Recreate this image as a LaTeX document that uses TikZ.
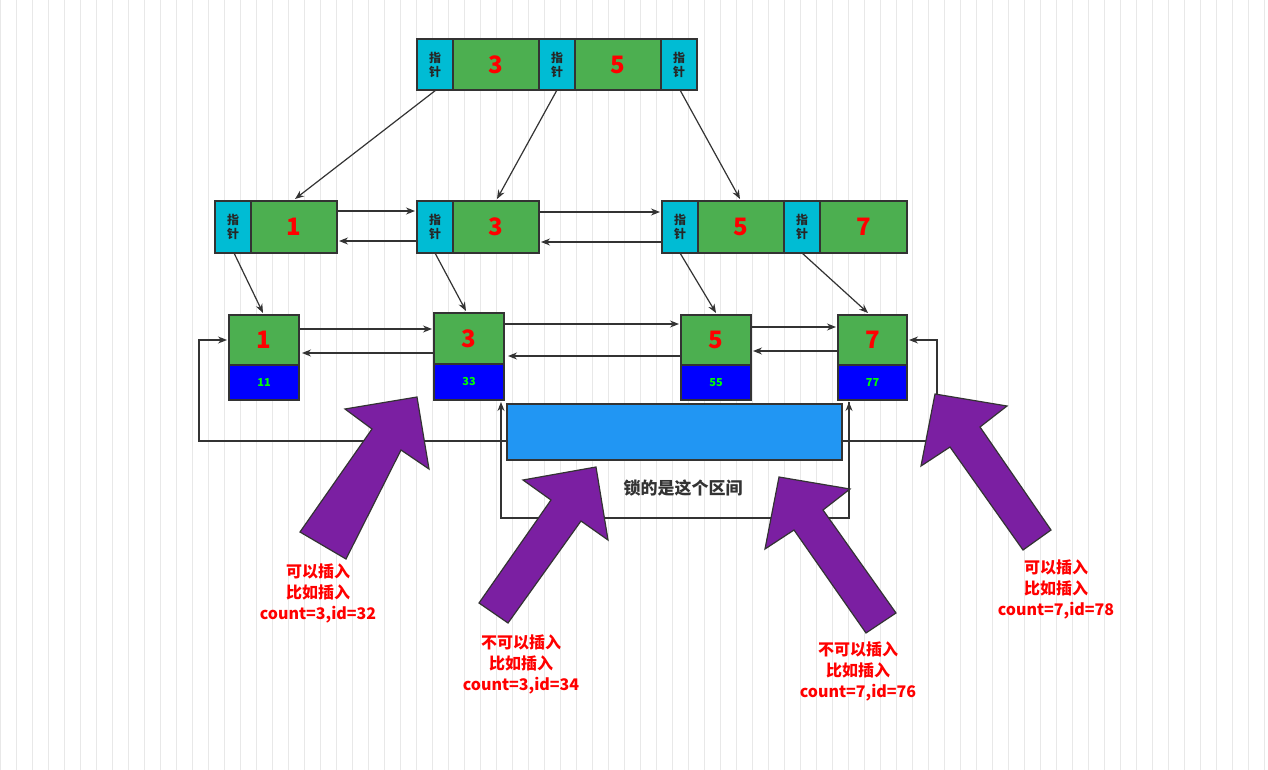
\documentclass[tikz,border=0pt]{standalone}
\usepackage{fontspec}
\setmainfont{Noto Sans CJK SC}
\usetikzlibrary{arrows.meta}
\definecolor{cg}{HTML}{4CAF50}
\definecolor{cb}{HTML}{00BCD4}
\definecolor{cbl}{HTML}{0000FF}
\definecolor{crect}{HTML}{2196F3}
\definecolor{cpur}{HTML}{7B1FA2}
\definecolor{ced}{HTML}{333333}
\begin{document}
\begin{tikzpicture}[x=1pt,y=-1pt,
  cell/.style={draw=ced,line width=1.5pt,inner sep=0pt},
  ptr/.style={cell,fill=cb},
  grn/.style={cell,fill=cg},
  blu/.style={cell,fill=cbl},
  ptrtxt/.style={font=\fontsize{12}{14}\selectfont\bfseries,align=center,text=black!85},
  numtxt/.style={font=\fontsize{24}{26}\selectfont\bfseries,text=red},
  leaftxt/.style={font=\fontsize{11}{12}\selectfont\bfseries,text=green},
  arr/.style={draw=ced,line width=1.2pt,-{Stealth[length=9pt,width=7pt]}},
  bigarr/.style={fill=cpur,draw=ced,line width=1.2pt},
  lbl/.style={font=\fontsize{16}{21}\selectfont\bfseries,text=red,align=center}]
\useasboundingbox (0,0) rectangle (1268,770);
\fill[white] (0,0) rectangle (1268,770);
\draw[black!9,line width=0.6pt,step=16] (0,0) grid (1268,770);
% helpers
\newcommand{\pcell}[5]{\node[#1,minimum width=#4-#2,minimum height=#5-#3] at ({(#2+#4)/2},{(#3+#5)/2})}
% top node
\pcell{ptr}{417}{39}{453}{90} (t1) {}; \node[ptrtxt] at (t1) {指\\针};
\pcell{grn}{453}{39}{539}{90} (t2) {}; \node[numtxt] at (t2) {3};
\pcell{ptr}{539}{39}{575}{90} (t3) {}; \node[ptrtxt] at (t3) {指\\针};
\pcell{grn}{575}{39}{661}{90} (t4) {}; \node[numtxt] at (t4) {5};
\pcell{ptr}{661}{39}{697}{90} (t5) {}; \node[ptrtxt] at (t5) {指\\针};
% middle row
\pcell{ptr}{215}{201}{251}{253} (a1) {}; \node[ptrtxt] at (a1) {指\\针};
\pcell{grn}{251}{201}{337}{253} (a2) {}; \node[numtxt] at (a2) {1};
\pcell{ptr}{417}{201}{453}{253} (b1) {}; \node[ptrtxt] at (b1) {指\\针};
\pcell{grn}{453}{201}{539}{253} (b2) {}; \node[numtxt] at (b2) {3};
\pcell{ptr}{662}{201}{698}{253} (c1) {}; \node[ptrtxt] at (c1) {指\\针};
\pcell{grn}{698}{201}{784}{253} (c2) {}; \node[numtxt] at (c2) {5};
\pcell{ptr}{784}{201}{820}{253} (c3) {}; \node[ptrtxt] at (c3) {指\\针};
\pcell{grn}{820}{201}{907}{253} (c4) {}; \node[numtxt] at (c4) {7};
% leaves
\pcell{grn}{229}{315}{299}{365} (l1) {}; \node[numtxt] at (l1) {1};
\pcell{blu}{229}{365}{299}{400} (v1) {}; \node[leaftxt] at (v1) {11};
\pcell{grn}{434}{313}{504}{364} (l3) {}; \node[numtxt] at (l3) {3};
\pcell{blu}{434}{364}{504}{400} (v3) {}; \node[leaftxt] at (v3) {33};
\pcell{grn}{681}{315}{751}{365} (l5) {}; \node[numtxt] at (l5) {5};
\pcell{blu}{681}{365}{751}{400} (v5) {}; \node[leaftxt] at (v5) {55};
\pcell{grn}{838}{315}{907}{365} (l7) {}; \node[numtxt] at (l7) {7};
\pcell{blu}{838}{365}{907}{400} (v7) {}; \node[leaftxt] at (v7) {77};
% tree arrows
\draw[arr] (436,90) -- (295,199);
\draw[arr] (557,90) -- (497,199);
\draw[arr] (680,90) -- (740,199);
\draw[arr] (234,253) -- (263,313);
\draw[arr] (435,253) -- (466,311);
\draw[arr] (680,253) -- (716,313);
\draw[arr] (802,253) -- (868,313);
% sibling arrows
\draw[arr] (337,211) -- (415,211);
\draw[arr] (417,241) -- (339,241);
\draw[arr] (539,212) -- (660,212);
\draw[arr] (662,242) -- (541,242);
\draw[arr] (299,329) -- (432,329);
\draw[arr] (434,353) -- (302,353);
\draw[arr] (504,324) -- (679,324);
\draw[arr] (681,356) -- (508,356);
\draw[arr] (751,327) -- (836,327);
\draw[arr] (838,351) -- (753,351);
% loops
\draw[arr] (199,340) -- (199,441) -- (937,441) -- (937,340) -- (909,340);
\draw[arr] (199,441) -- (199,340) -- (227,340);
\draw[arr] (849,402) -- (849,518) -- (501,518) -- (501,402);
\draw[arr] (501,518) -- (849,518) -- (849,402);
\pcell{cell,fill=crect}{507}{404}{842}{460} (rng) {};
\node[font=\fontsize{17}{20}\selectfont\bfseries,text=ced] (lk) at (683,488) {锁的是这个区间};
% big arrows
\draw[bigarr] (417,397) -- (429,469) -- (401,450) -- (346,559) -- (300,532) -- (372,429) -- (345,409) -- cycle;
\draw[bigarr] (596,467) -- (608,540) -- (581,521) -- (508,623) -- (479,603) -- (551,500) -- (523,480) -- cycle;
\draw[bigarr] (779,477) -- (850,489) -- (823,510) -- (896,613) -- (866,633) -- (794,530) -- (765,549) -- cycle;
\draw[bigarr] (935,394) -- (1007,406) -- (980,427) -- (1051,530) -- (1023,550) -- (950,447) -- (921,466) -- cycle;
% labels
\node[lbl] (q1) at (318,593) {可以插入\\比如插入\\count=3,id=32};
\node[lbl] (q2) at (521,664) {不可以插入\\比如插入\\count=3,id=34};
\node[lbl] (q3) at (858,671) {不可以插入\\比如插入\\count=7,id=76};
\node[lbl] (q4) at (1056,589) {可以插入\\比如插入\\count=7,id=78};
\end{tikzpicture}
\end{document}
